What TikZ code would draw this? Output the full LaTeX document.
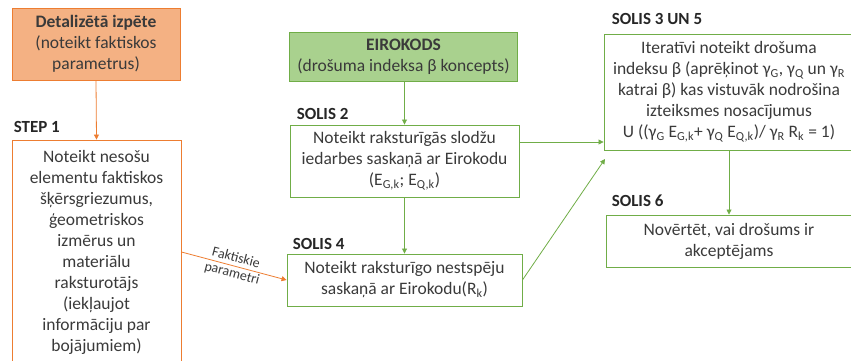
\documentclass[tikz,border=0pt]{standalone}
\usepackage{fontspec}
\setmainfont{Carlito}
\usetikzlibrary{positioning,arrows.meta}

\definecolor{oline}{HTML}{ED7D31}
\definecolor{ofill}{HTML}{F4B183}
\definecolor{gline}{HTML}{70AD47}
\definecolor{gfill}{HTML}{A9D18E}
\definecolor{txt}{HTML}{3A3A3A}

\newcommand{\lo}[1]{\textsubscript{#1}}

\tikzset{
    box/.style={draw, line width=0.9pt, align=center, text=txt, inner sep=1pt,
        font=\fontsize{17.5}{21}\selectfont},
    obox/.style={box, draw=oline},
    gbox/.style={box, draw=gline},
    steplabel/.style={font=\fontsize{17}{18}\selectfont\bfseries, text=black!85, inner sep=0pt},
    oarrow/.style={draw=oline, line width=0.8pt, -{Triangle[length=5pt,width=5pt]}},
    garrow/.style={draw=gline, line width=0.8pt, -{Triangle[length=5pt,width=5pt]}},
    arrowtext/.style={sloped, align=center, inner sep=0pt, text=txt,
        font=\fontsize{14}{16}\selectfont}
}

\begin{document}
\begin{tikzpicture}[x=1pt, y=-1pt]
    \useasboundingbox (0,0) rectangle (851,361);

    %% Left column
    % Detailed survey
    \node[obox, fill=ofill, minimum width=168pt, minimum height=72pt] (det) at (96,44)
        {\textbf{Detalizētā izpēte}\\(noteikt faktiskos\\parametrus)};

    % Step 1
    \node[obox, minimum width=169pt, minimum height=224pt] (s1) at (96.5,252)
        {Noteikt nesošu\\elementu faktiskos\\šķērsgriezumus,\\ģeometriskos\\izmērus un\\materiālu\\raksturotājs\\(iekļaujot\\informāciju par\\bojājumiem)};
    \node[steplabel, above right=7pt and 2pt of s1.north west] (l1) {STEP 1};

    %% Middle column
    % Eurocode
    \node[gbox, fill=gfill, minimum width=228pt, minimum height=49pt] (euro) at (403.5,56.5)
        {\textbf{EIROKODS}\\(drošuma indeksa β koncepts)};

    % Step 2
    \node[gbox, minimum width=229pt, minimum height=72pt] (s2) at (404.5,161)
        {Noteikt raksturīgās slodžu\\iedarbes saskaņā ar Eirokodu\\(E\lo{G,k}; E\lo{Q,k})};
    \node[steplabel, above right=5pt and 7pt of s2.north west] (l2) {SOLIS 2};

    % Step 4
    \node[gbox, minimum width=235pt, minimum height=52pt] (s4) at (404.5,280)
        {Noteikt raksturīgo nestspēju\\saskaņā ar Eirokodu(R\lo{k})};
    \node[steplabel, above right=4pt and 6pt of s4.north west] (l4) {SOLIS 4};

    %% Right column
    % Steps 3 and 5
    \node[gbox, minimum width=250pt, minimum height=116pt] (s3) at (729,92)
        {Iteratīvi noteikt drošuma\\indeksu β (aprēķinot γ\lo{G}, γ\lo{Q} un γ\lo{R}\\katrai β) kas vistuvāk nodrošina\\izteiksmes nosacījumus\\U ((γ\lo{G} E\lo{G,k}+ γ\lo{Q} E\lo{Q,k})/ γ\lo{R} R\lo{k} = 1)};
    \node[steplabel, above right=9pt and 8pt of s3.north west] (l3) {SOLIS 3 UN 5};

    % Step 6
    \node[gbox, minimum width=246pt, minimum height=52pt] (s6) at (729,241)
        {Novērtēt, vai drošums ir\\akceptējams};
    \node[steplabel, above right=8pt and 6pt of s6.north west] (l6) {SOLIS 6};

    %% Connectors
    \coordinate (h) at (0,142);
    \coordinate (d) at (605,159);
    \draw[oarrow] (det.south) -- (s1.north);
    \draw[oarrow] (s1.east) -- (s4.west)
        node[midway, arrowtext] (ft) {Faktiskie\\parametri};
    \draw[garrow] (euro.south -| s2.north) -- (s2.north);
    \draw[garrow] (s2.south) -- (s4.north);
    \draw[garrow] (s2.east |- h) -- (s3.west |- h);
    \draw[garrow] (s4.east) -- (d);
    \draw[garrow] (s3.south) -- (s6.north);

\end{tikzpicture}
\end{document}
